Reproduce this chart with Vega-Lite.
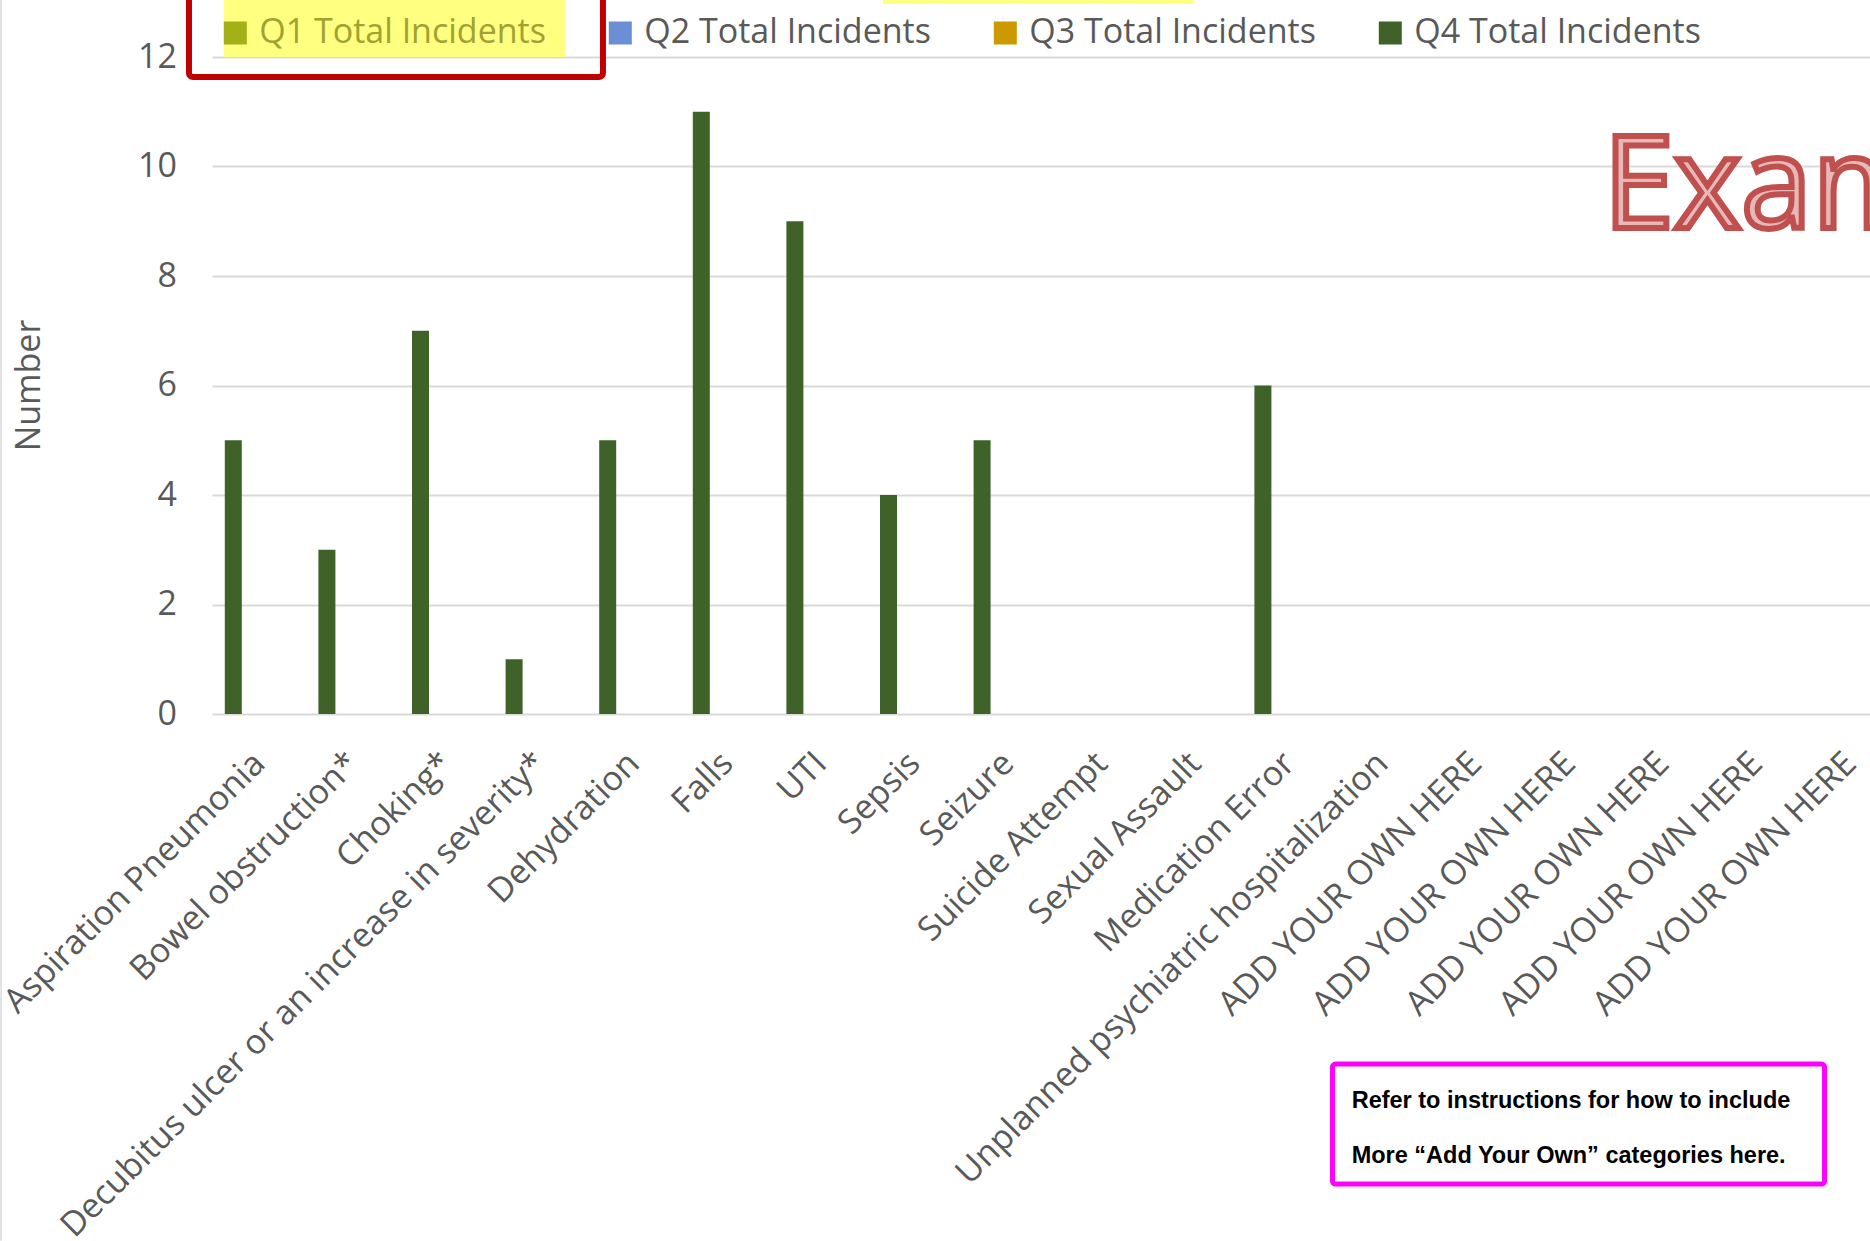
{
  "$schema": "https://vega.github.io/schema/vega-lite/v6.json",
  "autosize": "none",
  "padding": {"left": 212, "top": 57, "right": 0, "bottom": 527},
  "width": 1658,
  "height": 657,
  "background": "white",
  "config": {"view": {"stroke": null}, "font": "Open Sans"},
  "layer": [
    {
      "data": {"values": [{"u": -2.254, "v1": 13.04, "v2": -9.62}]},
      "mark": {"type": "rule", "stroke": "#d9d9d9", "strokeWidth": 1.5},
      "encoding": {
        "x": {"field": "u", "type": "quantitative", "scale": {"domain": [0, 18], "range": [0, 1684.8], "nice": false, "zero": false}, "axis": null},
        "y": {"field": "v1", "type": "quantitative", "scale": {"domain": [0, 12], "nice": false, "zero": false}, "axis": null},
        "y2": {"field": "v2"}
      }
    },
    {
      "data": {"values": [
        {"u1": 0.128, "u2": 3.771, "v1": 12.0, "v2": 13.04},
        {"u1": 7.17, "u2": 10.48, "v1": 12.97, "v2": 13.04}
      ]},
      "mark": {"type": "rect", "fill": "#ffff80"},
      "encoding": {
        "x": {"field": "u1", "type": "quantitative", "scale": {"domain": [0, 18], "range": [0, 1684.8], "nice": false, "zero": false}, "axis": null},
        "x2": {"field": "u2"},
        "y": {"field": "v1", "type": "quantitative", "scale": {"domain": [0, 12], "nice": false, "zero": false}, "axis": null},
        "y2": {"field": "v2"}
      }
    },
    {
      "data": {"values": [
        {"category": "Aspiration Pneumonia", "quarter": "Q4 Total Incidents", "value": 5},
        {"category": "Bowel obstruction*", "quarter": "Q4 Total Incidents", "value": 3},
        {"category": "Choking*", "quarter": "Q4 Total Incidents", "value": 7},
        {"category": "Decubitus ulcer or an increase in severity*", "quarter": "Q4 Total Incidents", "value": 1},
        {"category": "Dehydration", "quarter": "Q4 Total Incidents", "value": 5},
        {"category": "Falls", "quarter": "Q4 Total Incidents", "value": 11},
        {"category": "UTI", "quarter": "Q4 Total Incidents", "value": 9},
        {"category": "Sepsis", "quarter": "Q4 Total Incidents", "value": 4},
        {"category": "Seizure", "quarter": "Q4 Total Incidents", "value": 5},
        {"category": "Suicide Attempt", "quarter": "Q4 Total Incidents", "value": 0},
        {"category": "Sexual Assault", "quarter": "Q4 Total Incidents", "value": 0},
        {"category": "Medication Error", "quarter": "Q4 Total Incidents", "value": 6},
        {"category": "Unplanned psychiatric hospitalization", "quarter": "Q4 Total Incidents", "value": 0},
        {"category": "ADD YOUR OWN HERE|1", "quarter": "Q4 Total Incidents", "value": 0},
        {"category": "ADD YOUR OWN HERE|2", "quarter": "Q4 Total Incidents", "value": 0},
        {"category": "ADD YOUR OWN HERE|3", "quarter": "Q4 Total Incidents", "value": 0},
        {"category": "ADD YOUR OWN HERE|4", "quarter": "Q4 Total Incidents", "value": 0},
        {"category": "ADD YOUR OWN HERE|5", "quarter": "Q4 Total Incidents", "value": 0}
      ]},
      "mark": {"type": "bar"},
      "encoding": {
        "x": {
          "field": "category", "type": "nominal", "sort": null,
          "scale": {"range": [0, 1684.8], "paddingInner": 0.2735, "paddingOuter": 0.1368},
          "axis": {
            "title": null, "domain": false, "ticks": false, "grid": false,
            "labelAngle": -45, "labelAlign": "right", "labelBaseline": "middle",
            "labelPadding": 44, "labelOffset": 1,
            "labelFont": "Open Sans", "labelFontSize": 34, "labelColor": "#595959",
            "labelLimit": 1000, "labelOverlap": false,
            "labelExpr": "split(datum.label, '|')[0]"
          }
        },
        "xOffset": {
          "field": "quarter", "type": "nominal",
          "scale": {"domain": ["Q4 Total Incidents", "Q3 Total Incidents", "Q2 Total Incidents", "Q1 Total Incidents"], "paddingInner": 0, "paddingOuter": 0}
        },
        "y": {
          "field": "value", "type": "quantitative",
          "scale": {"domain": [0, 12], "nice": false, "zero": false},
          "axis": {
            "values": [0, 2, 4, 6, 8, 10, 12],
            "domain": false, "ticks": false, "grid": true,
            "gridColor": "#d9d9d9", "gridWidth": 2,
            "labelFont": "Open Sans", "labelFontSize": 34, "labelColor": "#595959", "labelPadding": 35.5,
            "title": "Number", "titleFont": "Open Sans", "titleFontSize": 34, "titleFontWeight": "normal",
            "titleColor": "#595959", "titleX": -183, "titleY": 328, "titleAngle": -90,
            "titleAlign": "center", "titleBaseline": "middle"
          }
        },
        "color": {
          "field": "quarter", "type": "nominal",
          "scale": {
            "domain": ["Q1 Total Incidents", "Q2 Total Incidents", "Q3 Total Incidents", "Q4 Total Incidents"],
            "range": ["#a2b116", "#6b8fd4", "#cc9a00", "#3f6228"]
          },
          "legend": {
            "orient": "none", "legendX": 6.3, "legendY": -41,
            "direction": "horizontal", "columns": 4, "title": null,
            "symbolType": "square", "symbolSize": 530, "symbolStrokeWidth": 0,
            "labelFont": "Open Sans", "labelFontSize": 34,
            "labelColor": {"expr": "datum.label == 'Q1 Total Incidents' ? '#a0a232' : '#595959'"},
            "labelOffset": 7, "columnPadding": 57, "padding": 0, "labelLimit": 1000
          }
        }
      }
    },
    {
      "data": {"values": [{"u1": -0.246, "u2": 4.177, "v1": 11.636, "v2": 13.22}]},
      "mark": {"type": "rect", "fill": "white", "fillOpacity": 0, "stroke": "#c00000", "strokeWidth": 6, "cornerRadius": 4},
      "encoding": {
        "x": {"field": "u1", "type": "quantitative", "scale": {"domain": [0, 18], "range": [0, 1684.8], "nice": false, "zero": false}, "axis": null},
        "x2": {"field": "u2"},
        "y": {"field": "v1", "type": "quantitative", "scale": {"domain": [0, 12], "nice": false, "zero": false}, "axis": null},
        "y2": {"field": "v2"}
      }
    },
    {
      "data": {"values": [{"u1": 11.971, "u2": 17.228, "v1": -6.394, "v2": -8.585}]},
      "mark": {"type": "rect", "fill": "white", "stroke": "#ff00ff", "strokeWidth": 5, "cornerRadius": 3},
      "encoding": {
        "x": {"field": "u1", "type": "quantitative", "scale": {"domain": [0, 18], "range": [0, 1684.8], "nice": false, "zero": false}, "axis": null},
        "x2": {"field": "u2"},
        "y": {"field": "v1", "type": "quantitative", "scale": {"domain": [0, 12], "nice": false, "zero": false}, "axis": null},
        "y2": {"field": "v2"}
      }
    },
    {
      "data": {"values": [
        {"u": 12.176, "v": -7.194, "text": "Refer to instructions for how to include"},
        {"u": 12.176, "v": -8.198, "text": "More “Add Your Own” categories here."}
      ]},
      "mark": {"type": "text", "font": "Liberation Sans", "fontWeight": "bold", "fontSize": 23.5, "align": "left", "baseline": "alphabetic", "fill": "#000000"},
      "encoding": {
        "x": {"field": "u", "type": "quantitative", "scale": {"domain": [0, 18], "range": [0, 1684.8], "nice": false, "zero": false}, "axis": null},
        "y": {"field": "v", "type": "quantitative", "scale": {"domain": [0, 12], "nice": false, "zero": false}, "axis": null},
        "text": {"field": "text"}
      }
    },
    {
      "data": {"values": [{"u": 14.86, "v": 8.88, "text": "Example"}]},
      "mark": {"type": "text", "font": "Open Sans", "fontWeight": "normal", "fontSize": 128, "align": "left", "baseline": "alphabetic", "fill": "#e6b9b8", "stroke": "#c0504d", "strokeWidth": 6},
      "encoding": {
        "x": {"field": "u", "type": "quantitative", "scale": {"domain": [0, 18], "range": [0, 1684.8], "nice": false, "zero": false}, "axis": null},
        "y": {"field": "v", "type": "quantitative", "scale": {"domain": [0, 12], "nice": false, "zero": false}, "axis": null},
        "text": {"field": "text"}
      }
    }
  ],
  "resolve": {"scale": {"x": "independent", "y": "independent"}, "axis": {"x": "independent", "y": "independent"}}
}
